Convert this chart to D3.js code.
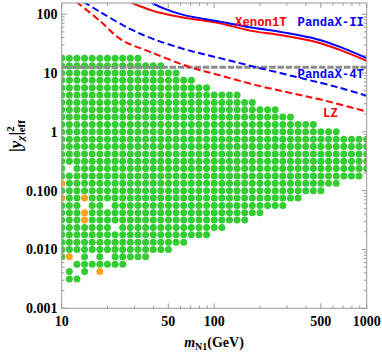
<!DOCTYPE html>
<html>
<head>
<meta charset="utf-8">
<script src="https://cdn.jsdelivr.net/npm/d3@7"></script>
<style>
  body { margin: 0; background: #fff; }
  svg { display: block; }
</style>
</head>
<body>
<div id="chart-area"></div>
<script>
var width = 382;
var height = 352;

// scan grid (log spaced)
var massGrid = [10, 11.22, 12.59, 14.13, 15.85, 17.78, 19.95, 22.39, 25.12, 28.18,
  31.62, 35.48, 39.81, 44.67, 50.12, 56.23, 63.1, 70.79, 79.43, 89.13,
  100, 112.2, 125.9, 141.3, 158.5, 177.8, 199.5, 223.9, 251.2, 281.8,
  316.2, 354.8, 398.1, 446.7, 501.2, 562.3, 631, 707.9, 794.3, 891.3, 1000];
var yukawaGrid = [0.00316, 0.00422, 0.00562, 0.0075, 0.01, 0.0133, 0.0178, 0.0237,
  0.0316, 0.0422, 0.0562, 0.075, 0.1, 0.133, 0.178, 0.237, 0.316, 0.422, 0.562,
  0.75, 1, 1.33, 1.78, 2.37, 3.16, 4.22, 5.62, 7.5, 10, 13.3, 17.8];

// allowed points: for each yukawa row, runs of mass columns [from, to]
var rowRuns = [
  [[1, 2]],
  [[1, 1], [3, 3], [5, 5]],
  [[2, 8]],
  [[0, 1], [3, 3], [5, 5], [7, 11]],
  [[0, 14]],
  [[0, 16]],
  [[0, 19]],
  [[0, 6], [8, 21]],
  [[0, 24]],
  [[0, 26]],
  [[0, 2], [4, 5], [7, 29]],
  [[0, 31]],
  [[0, 34]],
  [[0, 36]],
  [[0, 39]],
  [[0, 0], [2, 40]],
  [[0, 40]],
  [[0, 40]],
  [[0, 40]],
  [[0, 40]],
  [[0, 36]],
  [[0, 33]],
  [[0, 30]],
  [[0, 28]],
  [[0, 25]],
  [[0, 23]],
  [[0, 19]],
  [[0, 17]],
  [[0, 15]],
  [[0, 13]],
  [[0, 10]]
];
// orange points [column, row]
var orangePoints = [[0, 13], [0, 11], [3, 11], [3, 9], [3, 8], [1, 3], [5, 1]];

// direct detection limits [mass, |y|^2]
var xenon1T = [[28.8, 156], [33, 135], [39.7, 114], [51.3, 97], [66.4, 85.5], [109, 70.3],
  [172, 52.6], [283, 43.6], [472, 33.4], [668, 24.7], [1000, 16.1]];
var pandaXII = [[38.9, 156], [47.5, 123], [62.7, 97.3], [109, 74.8], [172, 60.1],
  [283, 49.1], [472, 37.6], [668, 27.8], [1000, 17.9]];
var pandaX4T = [[13.9, 162], [17.8, 110], [27.2, 58.5], [39.7, 38], [66.4, 24.7],
  [109, 17.9], [185, 12.7], [365, 8.27], [668, 5.6], [1000, 4.09]];
var lz = [[12.5, 162], [17.8, 77], [24.7, 36.6], [38, 22.9], [67.6, 12.9], [109, 9.12],
  [185, 6.29], [314, 4.6], [507, 3.5], [1000, 2.21]];
var perturbLimit = 12.566; // 4 pi

var xTickLabels = [10, 50, 100, 500, 1000];
var yTickLabels = ["0.001", "0.010", "0.100", "1", "10", "100"];
var yTickValues = [0.001, 0.01, 0.1, 1, 10, 100];

var pLeft = 61.7, pRight = 366.7, pTop = 3, pBottom = 308.3;

var x = d3.scaleLog().domain([10, 1000]).range([pLeft, pRight]);
var y = d3.scaleLog().domain([0.001, 155]).range([pBottom, pTop]);

var svg = d3.select("#chart-area").append("svg")
  .attr("width", width)
  .attr("height", height);

svg.append("defs").append("clipPath").attr("id", "plot-clip")
  .append("rect")
  .attr("x", pLeft).attr("y", pTop)
  .attr("width", pRight - pLeft).attr("height", pBottom - pTop);

var plot = svg.append("g").attr("clip-path", "url(#plot-clip)");

// points
var points = [];
rowRuns.forEach(function(runs, j) {
  runs.forEach(function(r) {
    for (var i = r[0]; i <= r[1]; i++) {
      var isOrange = orangePoints.some(function(p) { return p[0] === i && p[1] === j; });
      points.push({ m: massGrid[i], v: yukawaGrid[j], orange: isOrange });
    }
  });
});

plot.selectAll("circle.pt").data(points).enter().append("circle")
  .attr("class", "pt")
  .attr("cx", function(d) { return x(d.m); })
  .attr("cy", function(d) { return y(d.v); })
  .attr("r", 3.5)
  .attr("fill", function(d) { return d.orange ? "#ffa31a" : "#33cc33"; });

// gray 4pi line
plot.append("line")
  .attr("x1", pLeft).attr("x2", pRight)
  .attr("y1", y(perturbLimit)).attr("y2", y(perturbLimit))
  .attr("stroke", "#8c8c8c")
  .attr("stroke-width", 3)
  .attr("stroke-dasharray", "6.5,1.8");

var line = d3.line()
  .x(function(d) { return x(d[0]); })
  .y(function(d) { return y(d[1]); })
  .curve(d3.curveCatmullRom.alpha(0.5));

var curves = [
  { data: pandaX4T, color: "#0000ff", dash: "7,3.5" },
  { data: lz, color: "#ff0000", dash: "7,3.5" },
  { data: xenon1T, color: "#ff0000", dash: null },
  { data: pandaXII, color: "#0000ff", dash: null }
];
curves.forEach(function(c) {
  plot.append("path")
    .attr("d", line(c.data))
    .attr("fill", "none")
    .attr("stroke", c.color)
    .attr("stroke-width", 2)
    .attr("stroke-dasharray", c.dash);
});

// frame
var frameColor = "#999";
svg.append("rect")
  .attr("x", pLeft).attr("y", pTop)
  .attr("width", pRight - pLeft).attr("height", pBottom - pTop)
  .attr("fill", "none")
  .attr("stroke", frameColor)
  .attr("stroke-width", 1);

// ticks
var xMinor = [];
[10, 100].forEach(function(dec) {
  for (var k = 2; k <= 9; k++) { if (k !== 5) xMinor.push(dec * k); }
});
var yMinor = [];
[0.001, 0.01, 0.1, 1, 10, 100].forEach(function(dec) {
  for (var k = 2; k <= 9; k++) { if (dec * k < 155) yMinor.push(dec * k); }
});
var ticks = svg.append("g").attr("stroke", frameColor).attr("stroke-width", 1);
function xTick(v, len) {
  ticks.append("line").attr("x1", x(v)).attr("x2", x(v)).attr("y1", pBottom).attr("y2", pBottom - len);
  ticks.append("line").attr("x1", x(v)).attr("x2", x(v)).attr("y1", pTop).attr("y2", pTop + len);
}
function yTick(v, len) {
  ticks.append("line").attr("y1", y(v)).attr("y2", y(v)).attr("x1", pLeft).attr("x2", pLeft + len);
  ticks.append("line").attr("y1", y(v)).attr("y2", y(v)).attr("x1", pRight).attr("x2", pRight - len);
}
xTickLabels.forEach(function(v) { xTick(v, 5); });
xMinor.forEach(function(v) { xTick(v, 2.8); });
yTickValues.forEach(function(v) { yTick(v, 5); });
yMinor.forEach(function(v) { yTick(v, 2.8); });

var serif = "'Liberation Serif', 'Times New Roman', serif";
svg.append("g").selectAll("text").data(xTickLabels).enter().append("text")
  .attr("x", function(d) { return x(d); })
  .attr("y", 325.5)
  .attr("text-anchor", "middle")
  .attr("font-family", serif)
  .attr("font-weight", "bold")
  .attr("font-size", 14)
  .text(function(d) { return d; });

svg.append("g").selectAll("text").data(yTickValues).enter().append("text")
  .attr("x", 57.5)
  .attr("y", function(d) { return y(d); })
  .attr("dy", "0.35em")
  .attr("text-anchor", "end")
  .attr("font-family", serif)
  .attr("font-weight", "bold")
  .attr("font-size", 14)
  .text(function(d, i) { return yTickLabels[i]; });

// axis titles
var xt = svg.append("text")
  .attr("x", 214).attr("y", 347)
  .attr("text-anchor", "middle")
  .attr("font-family", serif)
  .attr("font-weight", "bold")
  .attr("font-size", 14);
xt.append("tspan").attr("font-style", "italic").text("m");
xt.append("tspan").attr("font-size", 10).attr("dy", 3).text("N1");
xt.append("tspan").attr("dy", -3).text("(GeV)");

var yt = svg.append("text")
  .attr("transform", "translate(21,136) rotate(-90)")
  .attr("text-anchor", "middle")
  .attr("font-family", serif)
  .attr("font-weight", "bold")
  .attr("font-size", 17);
yt.append("tspan").text("|");
yt.append("tspan").attr("font-style", "italic").text("y");
yt.append("tspan").attr("font-size", 11).attr("font-style", "italic").attr("dy", 3).text("χ");
yt.append("tspan").attr("dy", -3).text("|");
yt.append("tspan").attr("font-size", 11).attr("dy", -7).text("2");
yt.append("tspan").attr("font-size", 11).attr("dx", -6).attr("dy", 11).text("eff");

// curve labels
var mono = "'Liberation Mono', 'Courier New', monospace";
var curveLabels = [
  { text: "Xenon1T", x: 235, y: 26, color: "#ff0000" },
  { text: "PandaX-II", x: 297.5, y: 26, color: "#0000ff" },
  { text: "PandaX-4T", x: 297.5, y: 78.3, color: "#0000ff" },
  { text: "LZ", x: 323, y: 116.7, color: "#ff0000" }
];
svg.append("g").selectAll("text").data(curveLabels).enter().append("text")
  .attr("x", function(d) { return d.x; })
  .attr("y", function(d) { return d.y; })
  .attr("fill", function(d) { return d.color; })
  .attr("font-family", mono)
  .attr("font-weight", "bold")
  .attr("font-size", 12.3)
  .text(function(d) { return d.text; });
</script>
</body>
</html>
